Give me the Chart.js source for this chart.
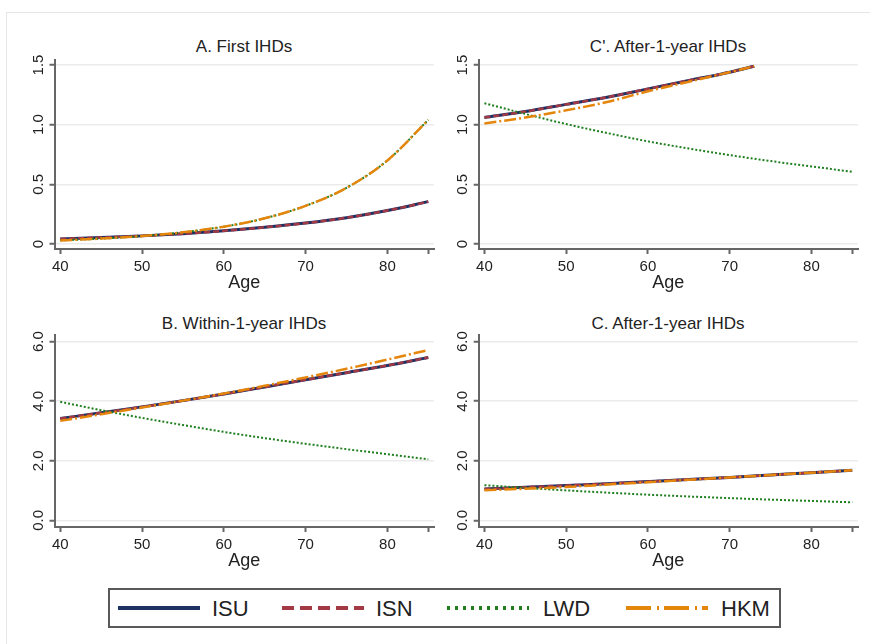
<!DOCTYPE html>
<html>
<head>
<meta charset="utf-8">
<script src="https://cdn.jsdelivr.net/npm/chart.js@4"></script>
<style>
  body { margin: 0; background: #fff; width: 870px; height: 644px; overflow: hidden; position: relative; font-family: "Liberation Sans", Arial, sans-serif; color: #222; }
  .frame { position: absolute; left: 6px; top: 12px; width: 900px; height: 700px; border-top: 1px solid #e6e6e6; border-left: 1px solid #e6e6e6; }
  canvas.panel { position: absolute; }
  .ttl { position: absolute; font-size: 17px; line-height: 20px; white-space: nowrap; transform: translateX(-50%); }
  .legend { position: absolute; left: 108px; top: 588px; width: 673px; height: 40px; box-sizing: border-box; border: 2px solid #595959; background: #fff; }
  .legend canvas { position: absolute; }
  .legend span { position: absolute; font-size: 22px; line-height: 26px; top: 6px; }
</style>
</head>
<body>
<div class="frame"></div>

<div class="ttl" style="left:244px; top:37px;">A. First IHDs</div>
<div class="ttl" style="left:668px; top:37px;">C'. After-1-year IHDs</div>
<div class="ttl" style="left:244px; top:314px;">B. Within-1-year IHDs</div>
<div class="ttl" style="left:668px; top:314px;">C. After-1-year IHDs</div>

<canvas id="panelA" class="panel" width="436" height="244" style="left:0; top:50px;"></canvas>
<canvas id="panelCp" class="panel" width="430" height="244" style="left:430px; top:50px;"></canvas>
<canvas id="panelB" class="panel" width="436" height="247" style="left:0; top:325px;"></canvas>
<canvas id="panelC" class="panel" width="430" height="247" style="left:430px; top:325px;"></canvas>

<div class="legend" id="legend"></div>

<script>
// ages
const ages = [40, 45, 50, 55, 60, 65, 70, 75, 80, 85];
const agesCp = [40, 45, 50, 55, 60, 65, 70, 73]; // C' lines stop at the top of the axis
const xTicks = [40, 50, 60, 70, 80, 85];

// A. First IHDs
const isuA = [0.042, 0.054, 0.068, 0.086, 0.11, 0.14, 0.175, 0.22, 0.28, 0.355];
const isnA = [0.042, 0.054, 0.068, 0.086, 0.11, 0.14, 0.175, 0.22, 0.28, 0.355];
const lwdA = [0.03, 0.045, 0.066, 0.098, 0.145, 0.215, 0.32, 0.47, 0.70, 1.04];
const hkmA = [0.03, 0.045, 0.066, 0.098, 0.145, 0.215, 0.32, 0.47, 0.70, 1.04];

// C'. After-1-year IHDs (zoomed)
const isuCp = [1.06, 1.11, 1.17, 1.23, 1.30, 1.37, 1.44, 1.49];
const isnCp = [1.06, 1.11, 1.17, 1.23, 1.30, 1.37, 1.44, 1.49];
const lwdCp = [1.18, 1.09, 1.005, 0.93, 0.86, 0.80, 0.745, 0.695, 0.65, 0.605];
const hkmCp = [1.01, 1.06, 1.12, 1.19, 1.28, 1.36, 1.44, 1.49];

// B. Within-1-year IHDs
const isuB = [3.42, 3.61, 3.81, 4.02, 4.24, 4.48, 4.72, 4.96, 5.20, 5.47];
const isnB = [3.42, 3.61, 3.81, 4.02, 4.24, 4.48, 4.72, 4.96, 5.20, 5.47];
const lwdB = [3.98, 3.70, 3.44, 3.20, 2.97, 2.76, 2.57, 2.39, 2.22, 2.05];
const hkmB = [3.34, 3.56, 3.79, 4.02, 4.26, 4.52, 4.80, 5.09, 5.40, 5.72];

// C. After-1-year IHDs
const isuC = [1.05, 1.11, 1.17, 1.23, 1.30, 1.37, 1.44, 1.52, 1.60, 1.68];
const isnC = [1.05, 1.11, 1.17, 1.23, 1.30, 1.37, 1.44, 1.52, 1.60, 1.68];
const lwdC = [1.18, 1.09, 1.005, 0.93, 0.86, 0.80, 0.745, 0.695, 0.65, 0.605];
const hkmC = [1.01, 1.06, 1.12, 1.20, 1.28, 1.36, 1.44, 1.52, 1.60, 1.68];

const yTicksSmall = [0, 0.5, 1.0, 1.5];
const yLabelsSmall = ['0', '0.5', '1.0', '1.5'];
const yTicksBig = [0, 2, 4, 6];
const yLabelsBig = ['0.0', '2.0', '4.0', '6.0'];

const series = [
  { name: 'ISU', color: '#1e3163', width: 3, dash: [], legendDash: [], order: 4 },
  { name: 'ISN', color: '#a33945', width: 2.5, dash: [6, 3], legendDash: [12, 6], order: 3 },
  { name: 'LWD', color: '#1f7f1f', width: 2, dash: [2, 2], legendDash: [3, 5], order: 2 },
  { name: 'HKM', color: '#e5860c', width: 2.5, dash: [12, 3, 2, 3], legendDash: [25, 6, 2, 5], order: 1 }
];

const FONT = '"Liberation Sans", Arial, sans-serif';
const AXIS = '#666';

function pts(xs, ys) {
  return ys.map((v, i) => ({ x: xs[i], y: v }));
}

function makePanel(id, lines, yMin, yMax, yTicks, yLabels, yWidth) {
  const datasets = lines.map((l, i) => ({
    label: series[i].name,
    data: pts(l.x, l.y),
    borderColor: series[i].color,
    borderWidth: series[i].width,
    borderDash: series[i].dash,
    borderCapStyle: 'butt',
    order: series[i].order,
    pointRadius: 0,
    fill: false,
    cubicInterpolationMode: 'monotone'
  }));
  new Chart(document.getElementById(id), {
    type: 'line',
    data: { datasets },
    options: {
      responsive: false,
      animation: false,
      devicePixelRatio: 1,
      layout: { padding: { top: 10, right: 2, left: 0, bottom: 0 } },
      plugins: { legend: { display: false }, tooltip: { enabled: false } },
      scales: {
        x: {
          type: 'linear',
          min: 39.3,
          max: 85.7,
          afterBuildTicks: s => { s.ticks = xTicks.map(v => ({ value: v })); },
          afterFit: s => { s.height = 45; },
          grid: { drawOnChartArea: false, drawTicks: true, tickLength: 5, tickColor: AXIS, tickWidth: 2 },
          border: { color: AXIS, width: 2 },
          ticks: {
            autoSkip: false, maxRotation: 0, padding: 4, color: '#222',
            font: { family: FONT, size: 15 },
            callback: v => (v === 85 ? '' : String(v))
          },
          title: { display: true, text: 'Age', color: '#222', padding: 0, font: { family: FONT, size: 18 } }
        },
        y: {
          min: yMin,
          max: yMax,
          afterBuildTicks: s => { s.ticks = yTicks.map(v => ({ value: v })); },
          afterFit: s => { s.width = yWidth; },
          grid: { color: '#ebebeb', lineWidth: 1.5, drawTicks: true, tickLength: 5, tickColor: AXIS, tickWidth: 2 },
          border: { color: AXIS, width: 2 },
          ticks: {
            minRotation: 90, maxRotation: 90, crossAlign: 'center', padding: 0, color: '#222',
            font: { family: FONT, size: 15 },
            callback: v => yLabels[yTicks.indexOf(v)]
          }
        }
      }
    }
  });
}

makePanel('panelA', [
  { x: ages, y: isuA }, { x: ages, y: isnA }, { x: ages, y: lwdA }, { x: ages, y: hkmA }
], -0.042, 1.542, yTicksSmall, yLabelsSmall, 54.5);

makePanel('panelCp', [
  { x: agesCp, y: isuCp }, { x: agesCp, y: isnCp }, { x: ages, y: lwdCp }, { x: agesCp, y: hkmCp }
], -0.042, 1.542, yTicksSmall, yLabelsSmall, 48.7);

makePanel('panelB', [
  { x: ages, y: isuB }, { x: ages, y: isnB }, { x: ages, y: lwdB }, { x: ages, y: hkmB }
], -0.225, 6.225, yTicksBig, yLabelsBig, 54.5);

makePanel('panelC', [
  { x: ages, y: isuC }, { x: ages, y: isnC }, { x: ages, y: lwdC }, { x: ages, y: hkmC }
], -0.225, 6.225, yTicksBig, yLabelsBig, 48.7);

// legend: line sample + label for each series
const legend = document.getElementById('legend');
const sampleLeft = [7, 171, 336, 515];  // relative to the box
const textLeft = [102, 266, 433, 611];
series.forEach((s, i) => {
  const c = document.createElement('canvas');
  c.width = 84; c.height = 10;
  c.style.left = sampleLeft[i] + 'px';
  c.style.top = '13px';
  legend.appendChild(c);
  const g = c.getContext('2d');
  g.strokeStyle = s.color;
  g.lineWidth = 4;
  g.lineCap = 'butt';
  g.setLineDash(s.legendDash);
  g.beginPath();
  g.moveTo(1, 5);
  g.lineTo(83, 5);
  g.stroke();
  const t = document.createElement('span');
  t.textContent = s.name;
  t.style.left = textLeft[i] + 'px';
  legend.appendChild(t);
});
</script>
</body>
</html>
